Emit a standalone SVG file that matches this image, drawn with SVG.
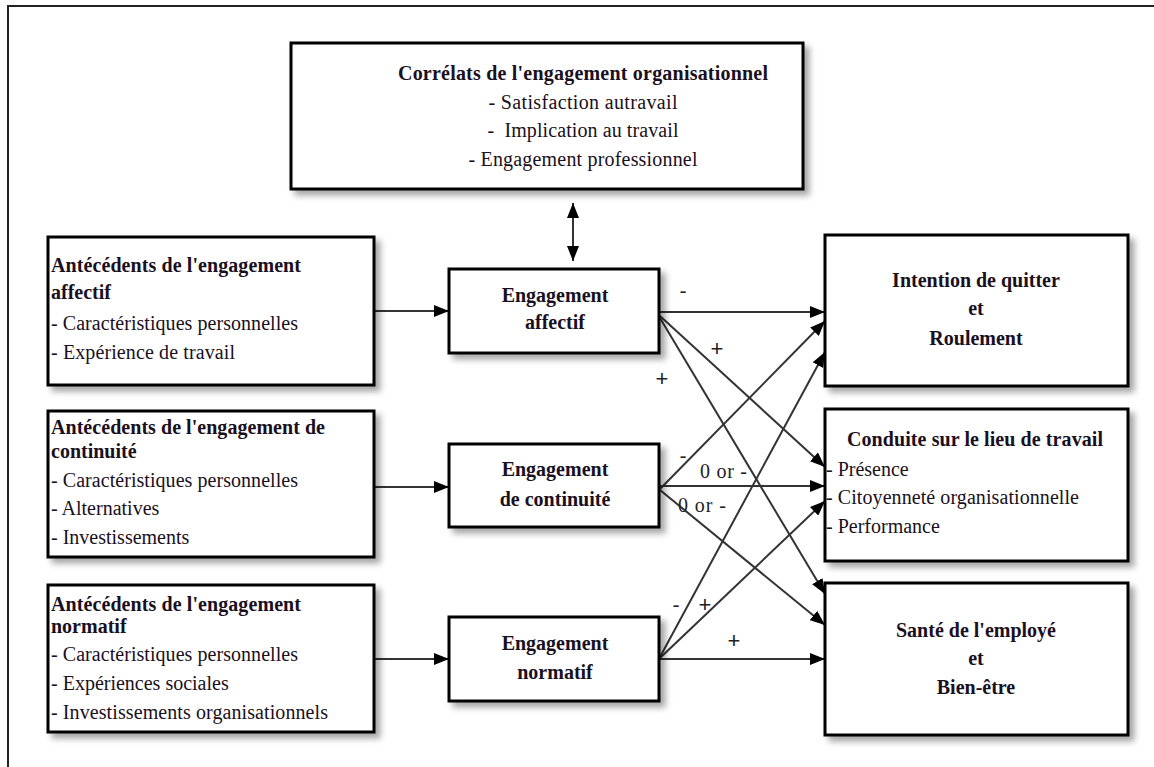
<svg xmlns="http://www.w3.org/2000/svg" width="1154" height="767" viewBox="0 0 1154 767">
<style>
  .box { fill: #fff; stroke: #000; stroke-width: 3; filter: url(#sh); }
  .t { font-family: "Liberation Serif", "Times New Roman", serif; font-size: 20px; fill: #1a1020; }
  .b { font-weight: bold; }
  .m { text-anchor: middle; }
  .c { fill: none; stroke: #333; stroke-width: 2; marker-end: url(#ah); }
  .lbl { font-family: "Liberation Serif", "Times New Roman", serif; font-size: 20px; fill: #222; }
  .pl { font-family: "Liberation Sans", Arial, sans-serif; font-size: 22px; font-weight: 300; fill: #222; text-anchor: middle; }
</style>
<defs>
  <filter id="sh" x="-10%" y="-10%" width="130%" height="130%">
    <feDropShadow dx="5" dy="5" stdDeviation="3" flood-color="#000" flood-opacity="0.35"/>
  </filter>
  <marker id="ah" markerUnits="userSpaceOnUse" markerWidth="16" markerHeight="12" refX="15" refY="6" orient="auto-start-reverse">
    <path d="M0,0 L15,6 L0,12 z" fill="#000"/>
  </marker>
</defs>
<rect x="0" y="0" width="1154" height="767" fill="#fff"/>
<path d="M8,767 V6 H1154" fill="none" stroke="#222" stroke-width="2"/>

<g id="connectors">
  <line class="c" x1="374" y1="311" x2="449" y2="311"/>
  <line class="c" x1="374" y1="487" x2="449" y2="487"/>
  <line class="c" x1="374" y1="659" x2="449" y2="659"/>
  <line class="c" x1="573" y1="203" x2="573" y2="261" style="marker-start:url(#ah)"/>
  <line class="c" x1="660" y1="312" x2="825" y2="312"/>
  <line class="c" x1="660" y1="316" x2="825" y2="467"/>
  <line class="c" x1="660" y1="318" x2="825" y2="594"/>
  <line class="c" x1="660" y1="489" x2="825" y2="321"/>
  <line class="c" x1="660" y1="486" x2="825" y2="486"/>
  <line class="c" x1="660" y1="490" x2="825" y2="625"/>
  <line class="c" x1="660" y1="657" x2="825" y2="352"/>
  <line class="c" x1="660" y1="658" x2="825" y2="501"/>
  <line class="c" x1="660" y1="659" x2="825" y2="659"/>
  <text class="lbl" x="683" y="297" text-anchor="middle">-</text>
  <text class="pl" x="717" y="356">+</text>
  <text class="pl" x="662" y="386">+</text>
  <text class="lbl" x="683" y="462" text-anchor="middle">-</text>
  <text class="lbl" x="700" y="478" textLength="47">0 or -</text>
  <text class="lbl" x="678" y="512" textLength="48">0 or -</text>
  <text class="lbl" x="676" y="611" text-anchor="middle">-</text>
  <text class="pl" x="705" y="612">+</text>
  <text class="pl" x="734" y="648">+</text>
</g>

<g id="correlats">
  <rect class="box" x="291" y="43" width="512" height="146"/>
  <text class="t b m" x="583" y="80" textLength="370">Corrélats de l'engagement organisationnel</text>
  <text class="t m" x="583" y="109" textLength="189">- Satisfaction autravail</text>
  <text class="t m" x="583" y="137" textLength="191" xml:space="preserve">-  Implication au travail</text>
  <text class="t m" x="583" y="166" textLength="229">- Engagement professionnel</text>
</g>

<g id="ant-affectif">
  <rect class="box" x="48" y="237" width="326" height="148"/>
  <text class="t b" x="51" y="272" textLength="250">Antécédents de l'engagement</text>
  <text class="t b" x="51" y="299">affectif</text>
  <text class="t" x="51" y="330" textLength="247">- Caractéristiques personnelles</text>
  <text class="t" x="51" y="359" textLength="184">- Expérience de travail</text>
</g>

<g id="ant-continuite">
  <rect class="box" x="48" y="411" width="326" height="146"/>
  <text class="t b" x="51" y="434" textLength="274">Antécédents de l'engagement de</text>
  <text class="t b" x="51" y="458">continuité</text>
  <text class="t" x="51" y="487" textLength="247">- Caractéristiques personnelles</text>
  <text class="t" x="51" y="515">- Alternatives</text>
  <text class="t" x="51" y="544">- Investissements</text>
</g>

<g id="ant-normatif">
  <rect class="box" x="48" y="585" width="326" height="147"/>
  <text class="t b" x="51" y="611" textLength="250">Antécédents de l'engagement</text>
  <text class="t b" x="51" y="633">normatif</text>
  <text class="t" x="51" y="661" textLength="247">- Caractéristiques personnelles</text>
  <text class="t" x="51" y="690">- Expériences sociales</text>
  <text class="t" x="51" y="719" textLength="277">- Investissements organisationnels</text>
</g>

<g id="eng-affectif">
  <rect class="box" x="449" y="269" width="210" height="84"/>
  <text class="t b m" x="555" y="302">Engagement</text>
  <text class="t b m" x="555" y="329">affectif</text>
</g>

<g id="eng-continuite">
  <rect class="box" x="449" y="444" width="210" height="83"/>
  <text class="t b m" x="555" y="476">Engagement</text>
  <text class="t b m" x="555" y="506">de continuité</text>
</g>

<g id="eng-normatif">
  <rect class="box" x="449" y="617" width="210" height="84"/>
  <text class="t b m" x="555" y="650">Engagement</text>
  <text class="t b m" x="555" y="679">normatif</text>
</g>

<g id="intention">
  <rect class="box" x="825" y="235" width="303" height="151"/>
  <text class="t b m" x="976" y="287">Intention de quitter</text>
  <text class="t b m" x="976" y="315">et</text>
  <text class="t b m" x="976" y="345">Roulement</text>
</g>

<g id="conduite">
  <rect class="box" x="825" y="409" width="303" height="152"/>
  <text class="t b m" x="975" y="446" textLength="256">Conduite sur le lieu de travail</text>
  <text class="t" x="826" y="476">- Présence</text>
  <text class="t" x="826" y="504" textLength="253">- Citoyenneté organisationnelle</text>
  <text class="t" x="826" y="533">- Performance</text>
</g>

<g id="sante">
  <rect class="box" x="825" y="583" width="303" height="152"/>
  <text class="t b m" x="976" y="637">Santé de l'employé</text>
  <text class="t b m" x="976" y="665">et</text>
  <text class="t b m" x="976" y="694">Bien-être</text>
</g>
</svg>
